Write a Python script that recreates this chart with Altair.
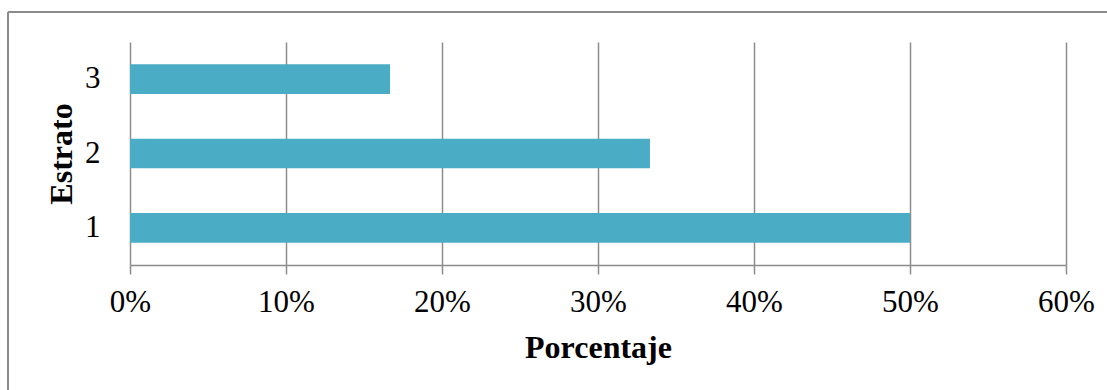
import altair as alt
import pandas as pd

# Share of respondents by socioeconomic stratum
estratos = ["1", "2", "3"]
porcentajes = [0.50, 0.3333, 0.1667]

df = pd.DataFrame({"Estrato": estratos, "Porcentaje": porcentajes})

FONT = "Liberation Serif"
GRID = "#8c8c8c"

bars = alt.Chart(df).mark_bar(color="#4BACC6").encode(
    x=alt.X(
        "Porcentaje:Q",
        scale=alt.Scale(domain=[0, 0.6], nice=False),
        axis=alt.Axis(
            title="Porcentaje",
            format=".0%",
            values=[0, 0.1, 0.2, 0.3, 0.4, 0.5, 0.6],
            grid=True,
            gridColor=GRID,
            gridWidth=1.5,
            domainColor=GRID,
            domainWidth=1.5,
            tickColor=GRID,
            tickWidth=1.5,
            tickSize=9,
            labelFlush=False,
            labelFont=FONT,
            labelFontSize=31,
            labelColor="black",
            labelPadding=13,
            titleFont=FONT,
            titleFontSize=32,
            titleFontWeight="bold",
            titleColor="black",
            titlePadding=15,
        ),
    ),
    y=alt.Y(
        "Estrato:N",
        sort="descending",
        scale=alt.Scale(paddingInner=0.6, paddingOuter=0.3),
        axis=alt.Axis(
            title="Estrato",
            ticks=False,
            domain=False,
            grid=False,
            labelFont=FONT,
            labelFontSize=31,
            labelColor="black",
            labelPadding=30,
            titleFont=FONT,
            titleFontSize=32,
            titleFontWeight="bold",
            titleColor="black",
            titleX=-69,
            titleY=111.5,
            titleBaseline="middle",
            titleAlign="center",
        ),
    ),
)

# Outer frame lines (top and left edges of the figure box)
frame_top = alt.Chart(df).mark_rule(color="#8a8a8a", strokeWidth=1.5).encode(
    x=alt.value(-122), x2=alt.value(1000), y=alt.value(-30)
)
frame_left = alt.Chart(df).mark_rule(color="#8a8a8a", strokeWidth=1.5).encode(
    x=alt.value(-122), y=alt.value(-30), y2=alt.value(360)
)

chart = (
    alt.layer(bars, frame_top, frame_left)
    .properties(
        width=936,
        height=223,
        autosize=alt.AutoSizeParams(type="none"),
        padding={"left": 130, "top": 42, "right": 41, "bottom": 125},
        background="white",
    )
    .configure_view(stroke=None)
)

chart.save("out.html", embed_options={"renderer": "svg", "actions": False})
